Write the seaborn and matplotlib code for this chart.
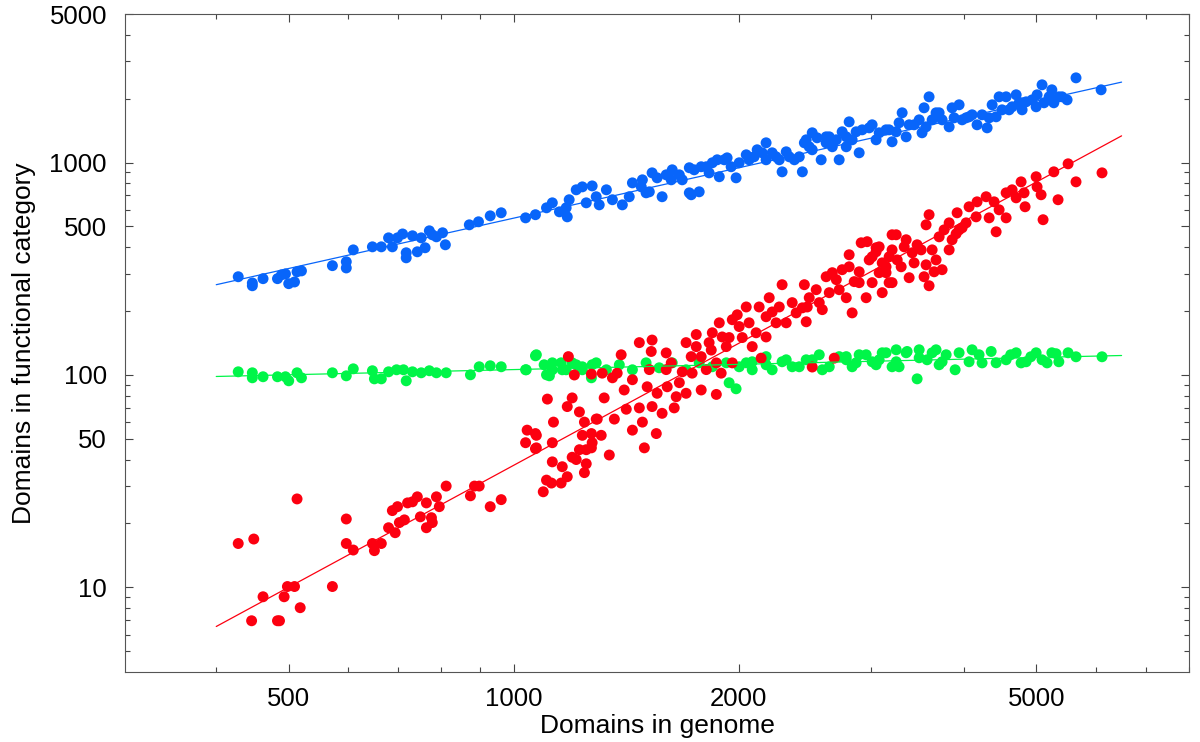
#%%
# log-log scatter of domains per functional category vs domains in genome
import numpy as np
import pandas as pd
import matplotlib
matplotlib.use("Agg")
import matplotlib.pyplot as plt
import matplotlib.ticker as mticker
import seaborn as sns

#%%
# blue category
blue_x = [428, 447, 447, 462, 483, 489, 495, 500, 509, 513, 520, 572, 597, 597, 610,
          647, 665, 680, 688, 699, 710, 718, 718, 732, 743, 752, 761, 771, 778, 788,
          803, 810, 872, 897, 930, 962, 1037, 1069, 1106, 1126, 1151, 1179, 1186, 1212,
          1235, 1273, 1250, 1301, 1330, 1355, 1397, 1441, 1486, 1289, 1427, 1175, 1727,
          1503, 1531, 1579, 1599, 1629, 1680, 1717, 1770, 1743, 1781, 1825, 1871, 1883,
          1929, 1983, 2002, 2064, 2116, 2175, 2175, 2243, 2285, 2314, 2373, 2432, 2447,
          2507, 2507, 2577, 2617, 2642, 2724, 2749, 2784, 2809, 2835, 2897, 2924, 3015,
          3052, 3147, 3206, 3276, 3307, 3348, 3431, 3516, 3538, 3593, 3627, 3706, 3822,
          3857, 3941, 3978, 4064, 4165, 4230, 4296, 4363, 4417, 4458, 4555, 4597, 4698,
          4741, 4785, 4844, 4996, 5011, 5088, 5119, 5244, 5276, 5358, 5496, 5649, 6103,
          1481, 1518, 1555, 1624, 1665, 1717, 1809, 1843, 1912, 1953, 2046, 2096, 2149,
          2216, 2265, 2336, 2409, 2461, 2484, 2545, 2617, 2667, 2700, 2784, 2870, 2988,
          3081, 3177, 3247, 3379, 3485, 3560, 3671, 3740, 3881, 4027, 4102, 4323, 4498,
          4640, 4785, 4934, 5200, 5411]
blue_y = [290, 271, 263, 284, 284, 296, 299, 269, 274, 306, 309, 327, 341, 319, 388,
          401, 401, 442, 401, 442, 461, 376, 356, 452, 380, 442, 397, 477, 457, 447,
          467, 410, 509, 526, 561, 580, 549, 568, 612, 646, 586, 555, 668, 744,
          768, 776, 646, 632, 744, 668, 632, 802, 829, 690, 690, 612, 705,
          720, 894, 690, 875, 924, 829, 720, 728, 924, 955, 894, 1030, 857,
          1052, 847, 997, 1030, 1148, 1238, 1030, 1064, 904, 1123, 1030, 904, 1238,
          1380, 1148, 1030, 1238, 1321, 1030, 1395, 1186, 1554, 1279, 1111, 1425, 1505,
          1279, 1425, 1252, 1538, 1714, 1321, 1505, 1380, 1809, 2038, 1588, 1714, 1472,
          1809, 1869, 1588, 1641, 1505, 1677, 1456, 1869, 1641, 2038, 2038, 1770, 2083,
          1910, 1770, 1930, 1829, 2083, 2321, 1910, 2199, 1910, 2038, 1972, 2503, 2199,
          768, 728, 847, 829, 875, 945, 955, 997, 1030, 955, 1087, 1064, 1111,
          1111, 1030, 1064, 1064, 1279, 1186, 1307, 1321, 1186, 1279, 1321, 1395, 1456,
          1380, 1425, 1395, 1505, 1588, 1472, 1714, 1588, 1623, 1623, 1677, 1623, 1770,
          1829, 1910, 1971, 2038, 2038]

# green category
green_x = [428, 447, 447, 462, 483, 495, 500, 513, 520, 572, 597, 610, 647, 651, 665,
           680, 697, 712, 718, 732, 752, 771, 788, 812, 875, 899, 930, 962, 1037, 1069,
           1098, 1116, 1126, 1157, 1175, 1212, 1235, 1270, 1273, 1072, 1039, 1106, 1126,
           1161, 1197, 1235, 1289, 1330, 1384, 1441, 1503, 1565, 1629, 1700, 1770, 1843,
           1941, 1983, 1924, 2046, 2084, 2175, 2216, 2314, 2409, 2507, 2586, 2724, 2835,
           2960, 3081, 3206, 2784, 2870, 3052, 3147, 3247, 3276, 3358, 3463, 3485, 3571,
           3671, 3706, 3787, 3893, 3941, 4064, 4191, 4350, 4417, 4555, 4698, 4844, 4996,
           5088, 5244, 5358, 5513, 5649, 6120,
           2002, 2084, 2175, 2285, 2357, 2461, 2562, 2642, 2784, 2897, 3015, 3110, 3247,
           3348, 3485, 3627, 3740, 4102, 4230, 4620, 4770, 4915, 5167, 5312]
green_y = [103.5, 102.4, 97.0, 98.1, 98.1, 98.1, 93.9, 102.4, 97.0, 102.4, 99.1, 106.9,
           104.7, 95.9, 95.9, 103.5, 105.8, 105.8, 93.9, 103.5, 102.4, 104.7, 102.4, 102.4,
           100.2, 109.3, 110.5, 109.3, 105.8, 123.1, 111.7, 99.1, 105.8, 114.1, 105.8,
           111.7, 105.8, 97.0, 111.7, 124.5, 105.8, 100.2, 114.1, 105.8, 114.1, 109.3,
           114.1, 105.8, 111.7, 105.8, 114.1, 108.1, 114.1, 105.8, 114.1, 109.3, 91.9,
           86.1, 114.1, 114.1, 105.8, 122.0, 105.8, 117.9, 109.3, 117.9, 105.8, 122.0,
           109.3, 124.5, 117.9, 109.3, 122.0, 114.1, 111.7, 127.2, 131.4, 109.3, 129.0,
           95.9, 131.4, 117.9, 131.4, 111.7, 124.5, 105.8, 127.2, 115.4, 124.5, 129.0,
           114.1, 117.9, 127.2, 115.4, 127.2, 117.9, 127.2, 115.4, 127.2, 121.8, 121.8,
           109.3, 115.4, 111.7, 115.4, 109.3, 117.9, 124.5, 109.3, 117.9, 124.5, 115.4,
           127.2, 115.4, 127.2, 120.5, 127.2, 115.4, 131.4, 114.0, 124.5, 114.0, 121.8,
           114.0, 125.9]

# red category
red_x = [428, 449, 513, 597, 597, 610, 647, 651, 665, 680, 688, 694, 699, 703, 714,
         721, 732, 743, 750, 764, 764, 776, 778, 788, 795, 812, 875, 886, 899, 930,
         962, 462, 446, 483, 486, 493, 498, 509, 518, 572,
         1037, 1042, 1069, 1069, 1109, 1126, 1130, 1126, 1095, 1106, 1123, 1157, 1161,
         1179, 1179, 1197, 1224, 1212, 1243, 1243, 1250, 1224, 1250, 1273, 1289, 1235,
         1183, 1205, 1270, 1072, 1072, 1197, 1270, 1270, 1293, 1309, 1313, 1321, 1342,
         1355, 1363, 1375, 1392, 1405, 1414, 1441, 1441, 1472, 1472, 1486, 1495, 1508,
         1518, 1527, 1531, 1531, 1551, 1555, 1579, 1599, 1599, 1604, 1624, 1639, 1649,
         1665, 1680, 1700, 1700, 1727, 1732, 1754, 1754, 1781, 1781, 1809, 1825, 1837,
         1843, 1866, 1866, 1883, 1894, 1900, 1924, 1941, 1960, 1960, 1990, 2002, 2021,
         2046, 2064, 2084, 2109, 2129, 2142, 2175, 2175, 2196, 2216, 2243, 2265, 2285,
         2314, 2357, 2386, 2432, 2447, 2461, 2469, 2507, 2484, 2538, 2562, 2586, 2617,
         2642, 2683, 2667, 2700, 2724, 2749, 2784, 2809, 2835, 2853, 2897, 2915, 2960,
         2969, 2988, 3015, 3052, 3081, 3110, 3147, 3177, 3206, 3206, 3177, 3206, 3247,
         3297, 3328, 3379, 3411, 3463, 3538, 3560, 3560, 3593, 3593, 3627, 3649, 3706,
         3740, 3763, 3822, 3857, 3917, 3941, 4027, 4064, 4153, 4165, 4283, 4323, 4390,
         4417, 4458, 4555, 4555, 4640, 4698, 4770, 4814, 4829, 4996, 5011, 5073, 5104,
         5276, 5345, 5513, 5649, 6120, 3052, 3110,
         2809, 2897, 3015, 3147, 3081, 3257, 3348, 3431, 3506, 3671, 3822, 3905, 3978]
red_y = [16.1, 16.9, 26.1, 21.0, 16.1, 15.0, 16.1, 14.9, 16.1, 19.1, 23.0, 18.1, 24.0,
         20.2, 20.8, 25.0, 25.3, 26.7, 21.5, 19.1, 25.0, 21.3, 20.2, 26.7, 24.0, 30.0,
         27.0, 30.0, 30.0, 24.0, 25.9, 9.04, 6.97, 6.97, 6.97, 9.04, 10.1, 10.1, 8.03,
         10.1,
         48, 55, 53, 45, 77, 48, 60, 39, 28.2, 32, 31, 31, 37,
         71, 33.2, 78, 67, 40, 60, 34.7, 38.2, 44.5, 44.5, 48, 62, 52,
         122, 100, 101, 52, 45.4, 41, 53, 45.4, 62, 52, 102, 78, 42,
         97, 62, 102, 124.5, 85, 69, 95, 55, 142, 70, 60, 45.4, 88,
         106, 129, 146, 71, 53, 82, 66, 127, 106, 88, 114, 70, 79,
         92, 103.5, 142, 82, 122, 102, 155, 136, 122, 85, 106, 142, 131,
         158, 114, 81, 176, 102, 151, 136, 150, 114, 182, 192, 169, 150,
         209, 176, 136, 158, 209, 120, 151, 188, 231, 198, 176, 209, 266,
         176, 219, 196, 207, 266, 178, 209, 109, 231, 252, 219, 203, 290,
         244, 120, 303, 281, 252, 313, 231, 368, 196, 275, 306, 419, 231,
         424, 348, 272, 380, 303, 244, 323, 360, 457, 272, 272, 388, 457,
         323, 401, 287, 376, 410, 290, 330, 509, 568, 263, 388, 306, 447,
         313, 482, 520, 433, 580, 482, 520, 619, 555, 653, 690, 549, 653,
         472, 599, 549, 720, 744, 682, 811, 720, 619, 857, 768, 705, 538,
         904, 668, 986, 811, 894, 397, 337,
         323, 272, 360, 303, 401, 348, 433, 337, 388, 348, 388, 462, 493]

# power-law fit lines (end points)
fit_x = [400, 6500]
blue_fit = [266, 2390]
green_fit = [98.4, 123.5]
red_fit = [6.55, 1335]

colours = {"blue": "#0865fa", "green": "#00f548", "red": "#fc0010"}

#%%
pts = pd.concat([
    pd.DataFrame({"genome": blue_x, "cat": blue_y, "series": "blue"}),
    pd.DataFrame({"genome": green_x, "cat": green_y, "series": "green"}),
    pd.DataFrame({"genome": red_x, "cat": red_y, "series": "red"}),
], ignore_index=True)

fits = pd.concat([
    pd.DataFrame({"genome": fit_x, "cat": blue_fit, "series": "blue"}),
    pd.DataFrame({"genome": fit_x, "cat": green_fit, "series": "green"}),
    pd.DataFrame({"genome": fit_x, "cat": red_fit, "series": "red"}),
], ignore_index=True)

sns.set_style("ticks")
plt.rcParams["font.family"] = ["Liberation Sans", "DejaVu Sans"]

fig = plt.figure(figsize=(12, 7.42), dpi=100)
ax = fig.add_axes([125 / 1200, 1 - 672 / 742, 1064 / 1200, 658 / 742])

sns.scatterplot(data=pts, x="genome", y="cat", hue="series", palette=colours,
                s=62, linewidth=0, legend=False, ax=ax)
sns.lineplot(data=fits, x="genome", y="cat", hue="series", palette=colours,
             linewidth=0.9, legend=False, ax=ax)

ax.set_xscale("log")
ax.set_yscale("log")
ax.set_xlim(302, 8000)
ax.set_ylim(4, 5000)

ax.xaxis.set_major_locator(mticker.FixedLocator([500, 1000, 2000, 5000]))
ax.xaxis.set_minor_locator(mticker.FixedLocator([400, 600, 700, 800, 900, 3000, 4000,
                                                  6000, 7000, 8000]))
ax.yaxis.set_major_locator(mticker.FixedLocator([10, 50, 100, 500, 1000, 5000]))
ax.yaxis.set_minor_locator(mticker.FixedLocator([5, 6, 7, 8, 9, 20, 30, 40, 60, 70, 80, 90,
                                                  200, 300, 400, 600, 700, 800, 900,
                                                  2000, 3000, 4000]))
ax.xaxis.set_major_formatter(mticker.FormatStrFormatter("%d"))
ax.yaxis.set_major_formatter(mticker.FormatStrFormatter("%d"))
ax.xaxis.set_minor_formatter(mticker.NullFormatter())
ax.yaxis.set_minor_formatter(mticker.NullFormatter())

ax.tick_params(which="both", direction="in", top=True, right=True, colors="#444444",
               labelcolor="black", width=0.8)
ax.tick_params(which="major", length=6, labelsize=18.5)
ax.tick_params(axis="x", which="major", pad=11)
ax.tick_params(axis="y", which="major", pad=13)
ax.tick_params(which="minor", length=3.5)
for sp in ax.spines.values():
    sp.set_color("#555555")
    sp.set_linewidth(0.8)

ax.set_xlabel("Domains in genome", fontsize=19, labelpad=2, color="black")
ax.set_ylabel("Domains in functional category", fontsize=19, labelpad=10, color="black")

fig.savefig("out.png", dpi=100, facecolor="white")
